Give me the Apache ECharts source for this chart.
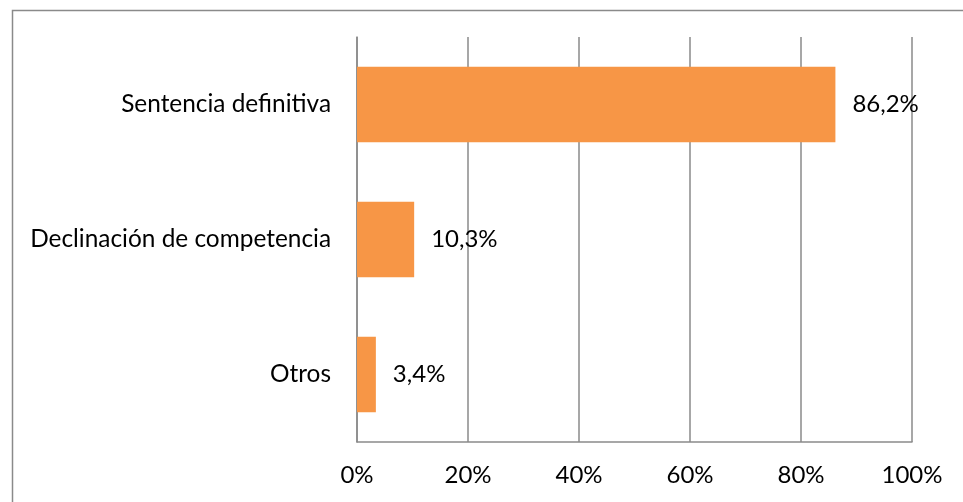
<!DOCTYPE html>
<html>
<head>
<meta charset="utf-8">
<script src="https://cdn.jsdelivr.net/npm/echarts@6/dist/echarts.min.js"></script>
<style>
  html, body { margin: 0; padding: 0; background: #fff; }
  #chart { width: 963px; height: 502px; }
</style>
</head>
<body>
<div id="chart"></div>
<script>
// datos
const categorias = ['Sentencia definitiva', 'Declinación de competencia', 'Otros'];
const porcentajes = [86.2, 10.3, 3.4];
const ejeTicks = [0, 20, 40, 60, 80, 100];

const gris = '#8a8a8a';
const fuente = 'Lato';

let myChart = echarts.init(document.getElementById('chart'));

let option = {
  animation: false,
  textStyle: { fontFamily: fuente },
  graphic: [
    {
      type: 'rect',
      left: 10,
      top: 8,
      shape: { width: 1000, height: 600 },
      style: { fill: 'none', stroke: gris, lineWidth: 1.5 },
      silent: true
    }
  ],
  grid: {
    left: 357,
    right: 51,
    top: 37,
    bottom: 60
  },
  xAxis: {
    type: 'value',
    min: ejeTicks[0],
    max: ejeTicks[ejeTicks.length - 1],
    interval: ejeTicks[1] - ejeTicks[0],
    axisLine: { show: true, lineStyle: { color: gris, width: 1.5 } },
    axisTick: { show: false },
    splitLine: { show: true, lineStyle: { color: gris, width: 1.5 } },
    axisLabel: {
      formatter: '{value}%',
      color: '#000',
      fontSize: 24,
      fontFamily: fuente,
      margin: 21
    }
  },
  yAxis: {
    type: 'category',
    inverse: true,
    data: categorias,
    axisLine: { show: true, lineStyle: { color: gris, width: 1.5 } },
    axisTick: { show: false },
    axisLabel: {
      color: '#000',
      fontSize: 24.4,
      fontFamily: fuente,
      margin: 26
    }
  },
  series: [
    {
      type: 'bar',
      data: porcentajes,
      barCategoryGap: '44%',
      itemStyle: { color: '#F79646' },
      label: {
        show: true,
        position: 'right',
        distance: 17,
        color: '#000',
        fontSize: 24,
        fontFamily: fuente,
        formatter: p => p.value.toFixed(1).replace('.', ',') + '%'
      }
    }
  ]
};

myChart.setOption(option);
</script>
</body>
</html>
